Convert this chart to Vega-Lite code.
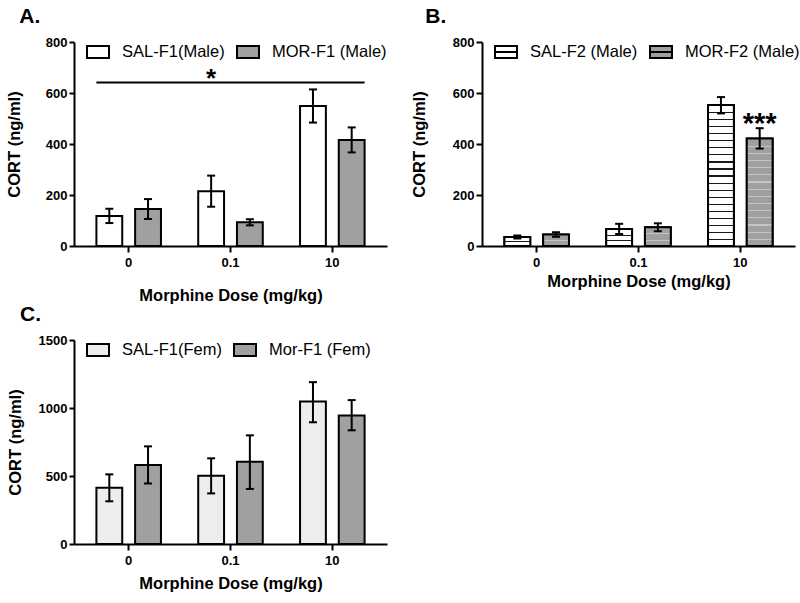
{
  "$schema": "https://vega.github.io/schema/vega-lite/v6.json",
  "background": "white",
  "padding": {"left": 6, "top": 6, "right": 0, "bottom": 0},
  "config": {
    "view": {"stroke": null},
    "font": "Liberation Sans",
    "axis": {"domainColor": "#000000", "domainWidth": 2, "tickColor": "#000000", "tickWidth": 2, "tickSize": 5, "labelPadding": 2, "labelColor": "#000000", "labelFont": "Liberation Sans", "labelFontSize": 13, "labelFontWeight": "bold", "titleColor": "#000000", "titleFont": "Liberation Sans", "titleFontSize": 16.5, "titleFontWeight": "bold", "grid": false, "labelFlush": false},
    "axisX": {"labelAngle": 0, "tickSize": 6, "labelPadding": 4},
    "legend": {"direction": "horizontal", "labelFont": "Liberation Sans", "labelFontSize": 16.5, "labelColor": "#000000", "symbolStrokeColor": "#000000", "symbolStrokeWidth": 2, "symbolSize": 484, "symbolType": "M-1,-0.545L1,-0.545L1,0.545L-1,0.545Z", "labelOffset": 12, "columnPadding": 8, "labelLimit": 300},
    "title": {"font": "Liberation Sans", "fontSize": 21, "fontWeight": "bold", "color": "#000000", "anchor": "start", "frame": "bounds"}
  },
  "datasets": {
    "A": [
      {"dose": "0", "group": "SAL-F1(Male)", "mean": 118, "lo": 90, "hi": 146},
      {"dose": "0", "group": "MOR-F1 (Male)", "mean": 145, "lo": 106, "hi": 184},
      {"dose": "0.1", "group": "SAL-F1(Male)", "mean": 215, "lo": 154, "hi": 276},
      {"dose": "0.1", "group": "MOR-F1 (Male)", "mean": 93, "lo": 81, "hi": 105},
      {"dose": "10", "group": "SAL-F1(Male)", "mean": 549, "lo": 484, "hi": 614},
      {"dose": "10", "group": "MOR-F1 (Male)", "mean": 416, "lo": 367, "hi": 465}
    ],
    "B": [
      {"dose": "0", "group": "SAL-F2 (Male)", "mean": 35, "lo": 29, "hi": 41},
      {"dose": "0", "group": "MOR-F2 (Male)", "mean": 45, "lo": 36, "hi": 54},
      {"dose": "0.1", "group": "SAL-F2 (Male)", "mean": 67, "lo": 47, "hi": 87},
      {"dose": "0.1", "group": "MOR-F2 (Male)", "mean": 74, "lo": 58, "hi": 89},
      {"dose": "10", "group": "SAL-F2 (Male)", "mean": 553, "lo": 520, "hi": 584},
      {"dose": "10", "group": "MOR-F2 (Male)", "mean": 422, "lo": 382, "hi": 462}
    ],
    "C": [
      {"dose": "0", "group": "SAL-F1(Fem)", "mean": 413, "lo": 314, "hi": 512},
      {"dose": "0", "group": "Mor-F1 (Fem)", "mean": 580, "lo": 445, "hi": 718},
      {"dose": "0.1", "group": "SAL-F1(Fem)", "mean": 502, "lo": 372, "hi": 630},
      {"dose": "0.1", "group": "Mor-F1 (Fem)", "mean": 605, "lo": 405, "hi": 799},
      {"dose": "10", "group": "SAL-F1(Fem)", "mean": 1048, "lo": 895, "hi": 1190},
      {"dose": "10", "group": "Mor-F1 (Fem)", "mean": 945, "lo": 836, "hi": 1058}
    ],
    "sigA": [{"dose": "0", "dose2": "10", "v": 641}],
    "starA": [{"dose": "0.1", "group": "SAL-F1(Male)", "v": 624, "label": "*"}],
    "starB": [{"dose": "10", "group": "MOR-F2 (Male)", "v": 444, "label": "***"}]
  },
  "resolve": {"scale": {"fill": "independent", "xOffset": "independent", "x": "independent", "y": "independent"}, "legend": {"fill": "independent"}},
  "spacing": 0,
  "vconcat": [
    {
      "spacing": 24,
      "resolve": {"scale": {"fill": "independent", "xOffset": "independent", "x": "independent", "y": "independent"}, "legend": {"fill": "independent"}},
      "hconcat": [
        {
          "title": {"text": "A.", "dx": 13, "offset": 9},
          "width": 313, "height": 204,
          "layer": [
            {
              "data": {"name": "A"},
              "mark": {"type": "bar", "stroke": "#000000", "strokeWidth": 2},
              "encoding": {
                "x": {"field": "dose", "type": "nominal", "title": "Morphine Dose (mg/kg)", "scale": {"type": "band", "domain": ["0", "0.1", "10"], "paddingInner": 0.366, "paddingOuter": 0.22}, "axis": {"titlePadding": 18}},
                "xOffset": {"field": "group", "type": "nominal", "scale": {"type": "band", "domain": ["SAL-F1(Male)", "MOR-F1 (Male)"], "paddingInner": 0.333, "paddingOuter": 0}},
                "y": {"field": "mean", "type": "quantitative", "title": "CORT (ng/ml)", "scale": {"domain": [0, 800], "nice": false}, "axis": {"values": [0, 200, 400, 600, 800], "titlePadding": 23}},
                "fill": {"field": "group", "type": "nominal", "scale": {"domain": ["SAL-F1(Male)", "MOR-F1 (Male)"], "range": ["#ffffff", "#a0a0a0"]}, "legend": {"title": null, "orient": "none", "legendX": 12, "legendY": -2, "direction": "horizontal", "symbolType": "M-1,-0.545L1,-0.545L1,0.545L-1,0.545Z", "symbolSize": 484, "symbolStrokeColor": "#000000", "symbolStrokeWidth": 2, "labelFontSize": 16.5}}
              }
            },
            {
              "data": {"name": "A"},
              "mark": {"type": "rule", "strokeWidth": 2, "color": "#000000"},
              "encoding": {
                "x": {"field": "dose", "type": "nominal", "title": "Morphine Dose (mg/kg)", "scale": {"type": "band", "domain": ["0", "0.1", "10"], "paddingInner": 0.366, "paddingOuter": 0.22}},
                "xOffset": {"field": "group", "type": "nominal", "scale": {"type": "band", "domain": ["SAL-F1(Male)", "MOR-F1 (Male)"], "paddingInner": 0.333, "paddingOuter": 0}},
                "y": {"field": "lo", "type": "quantitative", "title": "CORT (ng/ml)"},
                "y2": {"field": "hi"}
              }
            },
            {
              "data": {"name": "A"},
              "mark": {"type": "tick", "thickness": 2, "size": 8, "color": "#000000", "opacity": 1},
              "encoding": {
                "x": {"field": "dose", "type": "nominal", "title": "Morphine Dose (mg/kg)", "scale": {"type": "band", "domain": ["0", "0.1", "10"], "paddingInner": 0.366, "paddingOuter": 0.22}},
                "xOffset": {"field": "group", "type": "nominal", "scale": {"type": "band", "domain": ["SAL-F1(Male)", "MOR-F1 (Male)"], "paddingInner": 0.333, "paddingOuter": 0}},
                "y": {"field": "lo", "type": "quantitative", "title": "CORT (ng/ml)"}
              }
            },
            {
              "data": {"name": "A"},
              "mark": {"type": "tick", "thickness": 2, "size": 8, "color": "#000000", "opacity": 1},
              "encoding": {
                "x": {"field": "dose", "type": "nominal", "title": "Morphine Dose (mg/kg)", "scale": {"type": "band", "domain": ["0", "0.1", "10"], "paddingInner": 0.366, "paddingOuter": 0.22}},
                "xOffset": {"field": "group", "type": "nominal", "scale": {"type": "band", "domain": ["SAL-F1(Male)", "MOR-F1 (Male)"], "paddingInner": 0.333, "paddingOuter": 0}},
                "y": {"field": "hi", "type": "quantitative", "title": "CORT (ng/ml)"}
              }
            },
            {
              "data": {"name": "sigA"},
              "mark": {"type": "rule", "strokeWidth": 2, "color": "#000000"},
              "encoding": {
                "x": {"field": "dose", "type": "nominal", "title": "Morphine Dose (mg/kg)", "bandPosition": 0, "scale": {"type": "band", "domain": ["0", "0.1", "10"], "paddingInner": 0.366, "paddingOuter": 0.22}},
                "x2": {"field": "dose2", "bandPosition": 1},
                "y": {"field": "v", "type": "quantitative", "title": "CORT (ng/ml)"}
              }
            },
            {
              "data": {"name": "starA"},
              "mark": {"type": "text", "fontSize": 26, "fontWeight": "bold", "font": "Liberation Sans", "baseline": "alphabetic", "align": "center", "color": "#000000"},
              "encoding": {
                "x": {"field": "dose", "type": "nominal", "title": "Morphine Dose (mg/kg)", "scale": {"type": "band", "domain": ["0", "0.1", "10"], "paddingInner": 0.366, "paddingOuter": 0.22}},
                "xOffset": {"field": "group", "type": "nominal", "scale": {"type": "band", "domain": ["SAL-F1(Male)", "MOR-F1 (Male)"], "paddingInner": 0.333, "paddingOuter": 0}},
                "y": {"field": "v", "type": "quantitative", "title": "CORT (ng/ml)"},
                "text": {"field": "label"}
              }
            }
          ]
        },
        {
          "title": {"text": "B.", "dx": 14, "offset": 9},
          "width": 313, "height": 204,
          "layer": [
            {
              "data": {"name": "B"},
              "mark": {"type": "bar", "stroke": "#000000", "strokeWidth": 2},
              "encoding": {
                "x": {"field": "dose", "type": "nominal", "title": "Morphine Dose (mg/kg)", "scale": {"type": "band", "domain": ["0", "0.1", "10"], "paddingInner": 0.366, "paddingOuter": 0.22}, "axis": {"titlePadding": 4}},
                "xOffset": {"field": "group", "type": "nominal", "scale": {"type": "band", "domain": ["SAL-F2 (Male)", "MOR-F2 (Male)"], "paddingInner": 0.333, "paddingOuter": 0}},
                "y": {"field": "mean", "type": "quantitative", "title": "CORT (ng/ml)", "scale": {"domain": [0, 800], "nice": false}, "axis": {"values": [0, 200, 400, 600, 800], "titlePadding": 25, "tickSize": 6}},
                "fill": {"field": "group", "type": "nominal", "scale": {"domain": ["SAL-F2 (Male)", "MOR-F2 (Male)"], "range": ["#ffffff", "#a0a0a0"]}, "legend": {"title": null, "orient": "none", "legendX": 12, "legendY": -2, "direction": "horizontal", "symbolType": "M-1,-0.545L1,-0.545L1,0.545L-1,0.545Z M-1,0L1,0", "symbolSize": 484, "symbolStrokeColor": "#000000", "symbolStrokeWidth": 2, "labelFontSize": 16.5}}
              }
            },
            {
              "data": {"name": "B"},
              "transform": [{"filter": "datum.group == 'SAL-F2 (Male)' && datum.dose == '10'"}],
              "mark": {"type": "bar", "stroke": "#000000", "strokeWidth": 2, "fill": {"gradient": "linear", "x1": 0, "y1": 0, "x2": 0, "y2": 1, "stops": [
                {"offset": 0, "color": "#ffffff"},
                {"offset": 0.05, "color": "#ffffff"}, {"offset": 0.05, "color": "#1a1a1a"}, {"offset": 0.058, "color": "#1a1a1a"}, {"offset": 0.058, "color": "#ffffff"},
                {"offset": 0.1, "color": "#ffffff"}, {"offset": 0.1, "color": "#1a1a1a"}, {"offset": 0.108, "color": "#1a1a1a"}, {"offset": 0.108, "color": "#ffffff"},
                {"offset": 0.15, "color": "#ffffff"}, {"offset": 0.15, "color": "#1a1a1a"}, {"offset": 0.158, "color": "#1a1a1a"}, {"offset": 0.158, "color": "#ffffff"},
                {"offset": 0.2, "color": "#ffffff"}, {"offset": 0.2, "color": "#1a1a1a"}, {"offset": 0.208, "color": "#1a1a1a"}, {"offset": 0.208, "color": "#ffffff"},
                {"offset": 0.25, "color": "#ffffff"}, {"offset": 0.25, "color": "#1a1a1a"}, {"offset": 0.258, "color": "#1a1a1a"}, {"offset": 0.258, "color": "#ffffff"},
                {"offset": 0.3, "color": "#ffffff"}, {"offset": 0.3, "color": "#1a1a1a"}, {"offset": 0.308, "color": "#1a1a1a"}, {"offset": 0.308, "color": "#ffffff"},
                {"offset": 0.35, "color": "#ffffff"}, {"offset": 0.35, "color": "#1a1a1a"}, {"offset": 0.358, "color": "#1a1a1a"}, {"offset": 0.358, "color": "#ffffff"},
                {"offset": 0.4, "color": "#ffffff"}, {"offset": 0.4, "color": "#1a1a1a"}, {"offset": 0.408, "color": "#1a1a1a"}, {"offset": 0.408, "color": "#ffffff"},
                {"offset": 0.45, "color": "#ffffff"}, {"offset": 0.45, "color": "#1a1a1a"}, {"offset": 0.458, "color": "#1a1a1a"}, {"offset": 0.458, "color": "#ffffff"},
                {"offset": 0.5, "color": "#ffffff"}, {"offset": 0.5, "color": "#1a1a1a"}, {"offset": 0.508, "color": "#1a1a1a"}, {"offset": 0.508, "color": "#ffffff"},
                {"offset": 0.55, "color": "#ffffff"}, {"offset": 0.55, "color": "#1a1a1a"}, {"offset": 0.558, "color": "#1a1a1a"}, {"offset": 0.558, "color": "#ffffff"},
                {"offset": 0.6, "color": "#ffffff"}, {"offset": 0.6, "color": "#1a1a1a"}, {"offset": 0.608, "color": "#1a1a1a"}, {"offset": 0.608, "color": "#ffffff"},
                {"offset": 0.65, "color": "#ffffff"}, {"offset": 0.65, "color": "#1a1a1a"}, {"offset": 0.658, "color": "#1a1a1a"}, {"offset": 0.658, "color": "#ffffff"},
                {"offset": 0.7, "color": "#ffffff"}, {"offset": 0.7, "color": "#1a1a1a"}, {"offset": 0.708, "color": "#1a1a1a"}, {"offset": 0.708, "color": "#ffffff"},
                {"offset": 0.75, "color": "#ffffff"}, {"offset": 0.75, "color": "#1a1a1a"}, {"offset": 0.758, "color": "#1a1a1a"}, {"offset": 0.758, "color": "#ffffff"},
                {"offset": 0.8, "color": "#ffffff"}, {"offset": 0.8, "color": "#1a1a1a"}, {"offset": 0.808, "color": "#1a1a1a"}, {"offset": 0.808, "color": "#ffffff"},
                {"offset": 0.85, "color": "#ffffff"}, {"offset": 0.85, "color": "#1a1a1a"}, {"offset": 0.858, "color": "#1a1a1a"}, {"offset": 0.858, "color": "#ffffff"},
                {"offset": 0.9, "color": "#ffffff"}, {"offset": 0.9, "color": "#1a1a1a"}, {"offset": 0.908, "color": "#1a1a1a"}, {"offset": 0.908, "color": "#ffffff"},
                {"offset": 0.95, "color": "#ffffff"}, {"offset": 0.95, "color": "#1a1a1a"}, {"offset": 0.958, "color": "#1a1a1a"}, {"offset": 0.958, "color": "#ffffff"},
                {"offset": 1, "color": "#ffffff"}
              ]}},
              "encoding": {
                "x": {"field": "dose", "type": "nominal", "title": "Morphine Dose (mg/kg)", "scale": {"type": "band", "domain": ["0", "0.1", "10"], "paddingInner": 0.366, "paddingOuter": 0.22}},
                "xOffset": {"field": "group", "type": "nominal", "scale": {"type": "band", "domain": ["SAL-F2 (Male)", "MOR-F2 (Male)"], "paddingInner": 0.333, "paddingOuter": 0}},
                "y": {"field": "mean", "type": "quantitative", "title": "CORT (ng/ml)"}
              }
            },
            {
              "data": {"name": "B"},
              "transform": [{"filter": "datum.group == 'MOR-F2 (Male)' && datum.dose == '10'"}],
              "mark": {"type": "bar", "stroke": "#000000", "strokeWidth": 2, "fill": {"gradient": "linear", "x1": 0, "y1": 0, "x2": 0, "y2": 1, "stops": [
                {"offset": 0, "color": "#a0a0a0"},
                {"offset": 0.067, "color": "#a0a0a0"}, {"offset": 0.067, "color": "#c4c4c4"}, {"offset": 0.078, "color": "#c4c4c4"}, {"offset": 0.078, "color": "#a0a0a0"},
                {"offset": 0.133, "color": "#a0a0a0"}, {"offset": 0.133, "color": "#c4c4c4"}, {"offset": 0.144, "color": "#c4c4c4"}, {"offset": 0.144, "color": "#a0a0a0"},
                {"offset": 0.2, "color": "#a0a0a0"}, {"offset": 0.2, "color": "#c4c4c4"}, {"offset": 0.211, "color": "#c4c4c4"}, {"offset": 0.211, "color": "#a0a0a0"},
                {"offset": 0.267, "color": "#a0a0a0"}, {"offset": 0.267, "color": "#c4c4c4"}, {"offset": 0.278, "color": "#c4c4c4"}, {"offset": 0.278, "color": "#a0a0a0"},
                {"offset": 0.333, "color": "#a0a0a0"}, {"offset": 0.333, "color": "#c4c4c4"}, {"offset": 0.344, "color": "#c4c4c4"}, {"offset": 0.344, "color": "#a0a0a0"},
                {"offset": 0.4, "color": "#a0a0a0"}, {"offset": 0.4, "color": "#c4c4c4"}, {"offset": 0.411, "color": "#c4c4c4"}, {"offset": 0.411, "color": "#a0a0a0"},
                {"offset": 0.467, "color": "#a0a0a0"}, {"offset": 0.467, "color": "#c4c4c4"}, {"offset": 0.478, "color": "#c4c4c4"}, {"offset": 0.478, "color": "#a0a0a0"},
                {"offset": 0.533, "color": "#a0a0a0"}, {"offset": 0.533, "color": "#c4c4c4"}, {"offset": 0.544, "color": "#c4c4c4"}, {"offset": 0.544, "color": "#a0a0a0"},
                {"offset": 0.6, "color": "#a0a0a0"}, {"offset": 0.6, "color": "#c4c4c4"}, {"offset": 0.611, "color": "#c4c4c4"}, {"offset": 0.611, "color": "#a0a0a0"},
                {"offset": 0.667, "color": "#a0a0a0"}, {"offset": 0.667, "color": "#c4c4c4"}, {"offset": 0.678, "color": "#c4c4c4"}, {"offset": 0.678, "color": "#a0a0a0"},
                {"offset": 0.733, "color": "#a0a0a0"}, {"offset": 0.733, "color": "#c4c4c4"}, {"offset": 0.744, "color": "#c4c4c4"}, {"offset": 0.744, "color": "#a0a0a0"},
                {"offset": 0.8, "color": "#a0a0a0"}, {"offset": 0.8, "color": "#c4c4c4"}, {"offset": 0.811, "color": "#c4c4c4"}, {"offset": 0.811, "color": "#a0a0a0"},
                {"offset": 0.867, "color": "#a0a0a0"}, {"offset": 0.867, "color": "#c4c4c4"}, {"offset": 0.878, "color": "#c4c4c4"}, {"offset": 0.878, "color": "#a0a0a0"},
                {"offset": 0.933, "color": "#a0a0a0"}, {"offset": 0.933, "color": "#c4c4c4"}, {"offset": 0.944, "color": "#c4c4c4"}, {"offset": 0.944, "color": "#a0a0a0"},
                {"offset": 1, "color": "#a0a0a0"}
              ]}},
              "encoding": {
                "x": {"field": "dose", "type": "nominal", "title": "Morphine Dose (mg/kg)", "scale": {"type": "band", "domain": ["0", "0.1", "10"], "paddingInner": 0.366, "paddingOuter": 0.22}},
                "xOffset": {"field": "group", "type": "nominal", "scale": {"type": "band", "domain": ["SAL-F2 (Male)", "MOR-F2 (Male)"], "paddingInner": 0.333, "paddingOuter": 0}},
                "y": {"field": "mean", "type": "quantitative", "title": "CORT (ng/ml)"}
              }
            },
            {
              "data": {"name": "B"},
              "transform": [{"filter": "datum.group == 'SAL-F2 (Male)' && datum.dose == '0.1'"}],
              "mark": {"type": "bar", "stroke": "#000000", "strokeWidth": 2, "fill": {"gradient": "linear", "x1": 0, "y1": 0, "x2": 0, "y2": 1, "stops": [
                {"offset": 0, "color": "#ffffff"},
                {"offset": 0.33, "color": "#ffffff"}, {"offset": 0.33, "color": "#1a1a1a"}, {"offset": 0.39, "color": "#1a1a1a"}, {"offset": 0.39, "color": "#ffffff"},
                {"offset": 0.66, "color": "#ffffff"}, {"offset": 0.66, "color": "#1a1a1a"}, {"offset": 0.72, "color": "#1a1a1a"}, {"offset": 0.72, "color": "#ffffff"},
                {"offset": 1, "color": "#ffffff"}
              ]}},
              "encoding": {
                "x": {"field": "dose", "type": "nominal", "title": "Morphine Dose (mg/kg)", "scale": {"type": "band", "domain": ["0", "0.1", "10"], "paddingInner": 0.366, "paddingOuter": 0.22}},
                "xOffset": {"field": "group", "type": "nominal", "scale": {"type": "band", "domain": ["SAL-F2 (Male)", "MOR-F2 (Male)"], "paddingInner": 0.333, "paddingOuter": 0}},
                "y": {"field": "mean", "type": "quantitative", "title": "CORT (ng/ml)"}
              }
            },
            {
              "data": {"name": "B"},
              "transform": [{"filter": "datum.group == 'MOR-F2 (Male)' && datum.dose == '0.1'"}],
              "mark": {"type": "bar", "stroke": "#000000", "strokeWidth": 2, "fill": {"gradient": "linear", "x1": 0, "y1": 0, "x2": 0, "y2": 1, "stops": [
                {"offset": 0, "color": "#a0a0a0"},
                {"offset": 0.33, "color": "#a0a0a0"}, {"offset": 0.33, "color": "#c4c4c4"}, {"offset": 0.385, "color": "#c4c4c4"}, {"offset": 0.385, "color": "#a0a0a0"},
                {"offset": 0.66, "color": "#a0a0a0"}, {"offset": 0.66, "color": "#c4c4c4"}, {"offset": 0.715, "color": "#c4c4c4"}, {"offset": 0.715, "color": "#a0a0a0"},
                {"offset": 1, "color": "#a0a0a0"}
              ]}},
              "encoding": {
                "x": {"field": "dose", "type": "nominal", "title": "Morphine Dose (mg/kg)", "scale": {"type": "band", "domain": ["0", "0.1", "10"], "paddingInner": 0.366, "paddingOuter": 0.22}},
                "xOffset": {"field": "group", "type": "nominal", "scale": {"type": "band", "domain": ["SAL-F2 (Male)", "MOR-F2 (Male)"], "paddingInner": 0.333, "paddingOuter": 0}},
                "y": {"field": "mean", "type": "quantitative", "title": "CORT (ng/ml)"}
              }
            },
            {
              "data": {"name": "B"},
              "transform": [{"filter": "datum.group == 'SAL-F2 (Male)' && datum.dose == '0'"}],
              "mark": {"type": "bar", "stroke": "#000000", "strokeWidth": 2, "fill": {"gradient": "linear", "x1": 0, "y1": 0, "x2": 0, "y2": 1, "stops": [
                {"offset": 0, "color": "#ffffff"},
                {"offset": 0.45, "color": "#ffffff"}, {"offset": 0.45, "color": "#1a1a1a"}, {"offset": 0.56, "color": "#1a1a1a"}, {"offset": 0.56, "color": "#ffffff"},
                {"offset": 1, "color": "#ffffff"}
              ]}},
              "encoding": {
                "x": {"field": "dose", "type": "nominal", "title": "Morphine Dose (mg/kg)", "scale": {"type": "band", "domain": ["0", "0.1", "10"], "paddingInner": 0.366, "paddingOuter": 0.22}},
                "xOffset": {"field": "group", "type": "nominal", "scale": {"type": "band", "domain": ["SAL-F2 (Male)", "MOR-F2 (Male)"], "paddingInner": 0.333, "paddingOuter": 0}},
                "y": {"field": "mean", "type": "quantitative", "title": "CORT (ng/ml)"}
              }
            },
            {
              "data": {"name": "B"},
              "transform": [{"filter": "datum.group == 'MOR-F2 (Male)' && datum.dose == '0'"}],
              "mark": {"type": "bar", "stroke": "#000000", "strokeWidth": 2, "fill": {"gradient": "linear", "x1": 0, "y1": 0, "x2": 0, "y2": 1, "stops": [
                {"offset": 0, "color": "#a0a0a0"},
                {"offset": 0.46, "color": "#a0a0a0"}, {"offset": 0.46, "color": "#c4c4c4"}, {"offset": 0.55, "color": "#c4c4c4"}, {"offset": 0.55, "color": "#a0a0a0"},
                {"offset": 1, "color": "#a0a0a0"}
              ]}},
              "encoding": {
                "x": {"field": "dose", "type": "nominal", "title": "Morphine Dose (mg/kg)", "scale": {"type": "band", "domain": ["0", "0.1", "10"], "paddingInner": 0.366, "paddingOuter": 0.22}},
                "xOffset": {"field": "group", "type": "nominal", "scale": {"type": "band", "domain": ["SAL-F2 (Male)", "MOR-F2 (Male)"], "paddingInner": 0.333, "paddingOuter": 0}},
                "y": {"field": "mean", "type": "quantitative", "title": "CORT (ng/ml)"}
              }
            },
            {
              "data": {"name": "B"},
              "mark": {"type": "rule", "strokeWidth": 2, "color": "#000000"},
              "encoding": {
                "x": {"field": "dose", "type": "nominal", "title": "Morphine Dose (mg/kg)", "scale": {"type": "band", "domain": ["0", "0.1", "10"], "paddingInner": 0.366, "paddingOuter": 0.22}},
                "xOffset": {"field": "group", "type": "nominal", "scale": {"type": "band", "domain": ["SAL-F2 (Male)", "MOR-F2 (Male)"], "paddingInner": 0.333, "paddingOuter": 0}},
                "y": {"field": "lo", "type": "quantitative", "title": "CORT (ng/ml)"},
                "y2": {"field": "hi"}
              }
            },
            {
              "data": {"name": "B"},
              "mark": {"type": "tick", "thickness": 2, "size": 8, "color": "#000000", "opacity": 1},
              "encoding": {
                "x": {"field": "dose", "type": "nominal", "title": "Morphine Dose (mg/kg)", "scale": {"type": "band", "domain": ["0", "0.1", "10"], "paddingInner": 0.366, "paddingOuter": 0.22}},
                "xOffset": {"field": "group", "type": "nominal", "scale": {"type": "band", "domain": ["SAL-F2 (Male)", "MOR-F2 (Male)"], "paddingInner": 0.333, "paddingOuter": 0}},
                "y": {"field": "lo", "type": "quantitative", "title": "CORT (ng/ml)"}
              }
            },
            {
              "data": {"name": "B"},
              "mark": {"type": "tick", "thickness": 2, "size": 8, "color": "#000000", "opacity": 1},
              "encoding": {
                "x": {"field": "dose", "type": "nominal", "title": "Morphine Dose (mg/kg)", "scale": {"type": "band", "domain": ["0", "0.1", "10"], "paddingInner": 0.366, "paddingOuter": 0.22}},
                "xOffset": {"field": "group", "type": "nominal", "scale": {"type": "band", "domain": ["SAL-F2 (Male)", "MOR-F2 (Male)"], "paddingInner": 0.333, "paddingOuter": 0}},
                "y": {"field": "hi", "type": "quantitative", "title": "CORT (ng/ml)"}
              }
            },
            {
              "data": {"name": "starB"},
              "mark": {"type": "text", "fontSize": 29, "fontWeight": "bold", "font": "Liberation Sans", "baseline": "alphabetic", "align": "center", "color": "#000000"},
              "encoding": {
                "x": {"field": "dose", "type": "nominal", "title": "Morphine Dose (mg/kg)", "scale": {"type": "band", "domain": ["0", "0.1", "10"], "paddingInner": 0.366, "paddingOuter": 0.22}},
                "xOffset": {"field": "group", "type": "nominal", "scale": {"type": "band", "domain": ["SAL-F2 (Male)", "MOR-F2 (Male)"], "paddingInner": 0.333, "paddingOuter": 0}},
                "y": {"field": "v", "type": "quantitative", "title": "CORT (ng/ml)"},
                "text": {"field": "label"}
              }
            }
          ]
        }
      ]
    },
    {
      "title": {"text": "C.", "dx": 13, "offset": 9},
      "width": 313, "height": 204,
      "layer": [
        {
          "data": {"name": "C"},
          "mark": {"type": "bar", "stroke": "#000000", "strokeWidth": 2},
          "encoding": {
            "x": {"field": "dose", "type": "nominal", "title": "Morphine Dose (mg/kg)", "scale": {"type": "band", "domain": ["0", "0.1", "10"], "paddingInner": 0.366, "paddingOuter": 0.22}, "axis": {"titlePadding": 8}},
            "xOffset": {"field": "group", "type": "nominal", "scale": {"type": "band", "domain": ["SAL-F1(Fem)", "Mor-F1 (Fem)"], "paddingInner": 0.333, "paddingOuter": 0}},
            "y": {"field": "mean", "type": "quantitative", "title": "CORT (ng/ml)", "scale": {"domain": [0, 1500], "nice": false}, "axis": {"values": [0, 500, 1000, 1500], "format": "d", "titlePadding": 15}},
            "fill": {"field": "group", "type": "nominal", "scale": {"domain": ["SAL-F1(Fem)", "Mor-F1 (Fem)"], "range": ["#ededed", "#a0a0a0"]}, "legend": {"title": null, "orient": "none", "legendX": 12, "legendY": -2, "direction": "horizontal", "symbolType": "M-1,-0.545L1,-0.545L1,0.545L-1,0.545Z", "symbolSize": 484, "symbolStrokeColor": "#000000", "symbolStrokeWidth": 2, "labelFontSize": 16.5}}
          }
        },
        {
          "data": {"name": "C"},
          "mark": {"type": "rule", "strokeWidth": 2, "color": "#000000"},
          "encoding": {
            "x": {"field": "dose", "type": "nominal", "title": "Morphine Dose (mg/kg)", "scale": {"type": "band", "domain": ["0", "0.1", "10"], "paddingInner": 0.366, "paddingOuter": 0.22}},
            "xOffset": {"field": "group", "type": "nominal", "scale": {"type": "band", "domain": ["SAL-F1(Fem)", "Mor-F1 (Fem)"], "paddingInner": 0.333, "paddingOuter": 0}},
            "y": {"field": "lo", "type": "quantitative", "title": "CORT (ng/ml)"},
            "y2": {"field": "hi"}
          }
        },
        {
          "data": {"name": "C"},
          "mark": {"type": "tick", "thickness": 2, "size": 8, "color": "#000000", "opacity": 1},
          "encoding": {
            "x": {"field": "dose", "type": "nominal", "title": "Morphine Dose (mg/kg)", "scale": {"type": "band", "domain": ["0", "0.1", "10"], "paddingInner": 0.366, "paddingOuter": 0.22}},
            "xOffset": {"field": "group", "type": "nominal", "scale": {"type": "band", "domain": ["SAL-F1(Fem)", "Mor-F1 (Fem)"], "paddingInner": 0.333, "paddingOuter": 0}},
            "y": {"field": "lo", "type": "quantitative", "title": "CORT (ng/ml)"}
          }
        },
        {
          "data": {"name": "C"},
          "mark": {"type": "tick", "thickness": 2, "size": 8, "color": "#000000", "opacity": 1},
          "encoding": {
            "x": {"field": "dose", "type": "nominal", "title": "Morphine Dose (mg/kg)", "scale": {"type": "band", "domain": ["0", "0.1", "10"], "paddingInner": 0.366, "paddingOuter": 0.22}},
            "xOffset": {"field": "group", "type": "nominal", "scale": {"type": "band", "domain": ["SAL-F1(Fem)", "Mor-F1 (Fem)"], "paddingInner": 0.333, "paddingOuter": 0}},
            "y": {"field": "hi", "type": "quantitative", "title": "CORT (ng/ml)"}
          }
        }
      ]
    }
  ]
}
